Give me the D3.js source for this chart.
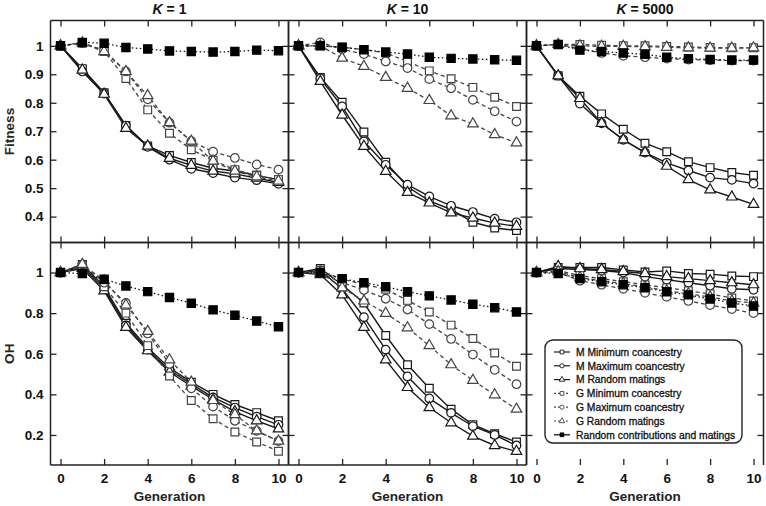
<!DOCTYPE html>
<html>
<head>
<meta charset="utf-8">
<script src="https://cdn.jsdelivr.net/npm/d3@7"></script>
<style>
  body { margin: 0; background: #fff; }
  svg { display: block; font-family: "Liberation Sans", Arial, sans-serif; }
  .tick text { font-weight: bold; font-size: 13.5px; fill: #111; }
  .tick line { stroke: #222; stroke-width: 1.3; }
</style>
</head>
<body>
<svg id="chart" width="766" height="506"></svg>
<script>
// Generations on the x axis
const generations = d3.range(0, 11);
const kValues = ["1", "10", "5000"];
const rowNames = ["Fitness", "OH"];
const xTicks = [0, 2, 4, 6, 8, 10];
const fitnessTicks = [0.4, 0.5, 0.6, 0.7, 0.8, 0.9, 1];
const ohTicks = [0.2, 0.4, 0.6, 0.8, 1];

const seriesNames = [
  "M Minimum coancestry", "M Maximum coancestry", "M Random matings",
  "G Minimum coancestry", "G Maximum coancestry", "G Random matings",
  "Random contributions and matings"
];

// Fitness, one row per series (same order as seriesNames)
const fitnessK1 = [
  [1, 0.92, 0.835, 0.72, 0.648, 0.615, 0.59, 0.57, 0.56, 0.545, 0.53],
  [1, 0.91, 0.832, 0.72, 0.645, 0.60, 0.568, 0.553, 0.537, 0.528, 0.515],
  [1, 0.915, 0.83, 0.71, 0.648, 0.605, 0.58, 0.56, 0.55, 0.535, 0.52],
  [1, 1.01, 0.98, 0.885, 0.775, 0.693, 0.635, 0.598, 0.565, 0.545, 0.53],
  [1, 1.01, 0.985, 0.91, 0.812, 0.73, 0.665, 0.628, 0.606, 0.583, 0.565],
  [1, 1.01, 0.98, 0.91, 0.825, 0.73, 0.665, 0.595, 0.56, 0.54, 0.525],
  [1, 1.012, 1.009, 0.994, 0.989, 0.982, 0.98, 0.978, 0.98, 0.985, 0.983]
];
const fitnessK10 = [
  [1, 0.889, 0.802, 0.697, 0.591, 0.505, 0.455, 0.425, 0.38, 0.36, 0.351],
  [1, 0.885, 0.787, 0.664, 0.582, 0.512, 0.471, 0.438, 0.416, 0.393, 0.38],
  [1, 0.875, 0.757, 0.647, 0.559, 0.485, 0.448, 0.413, 0.395, 0.377, 0.366],
  [1, 1.0, 0.995, 0.987, 0.975, 0.945, 0.912, 0.884, 0.854, 0.819, 0.787],
  [1, 1.012, 0.988, 0.971, 0.945, 0.922, 0.883, 0.851, 0.81, 0.77, 0.734],
  [1, 1.0, 0.957, 0.928, 0.889, 0.851, 0.808, 0.754, 0.726, 0.688, 0.659],
  [1, 1.0, 0.995, 0.986, 0.978, 0.971, 0.96, 0.956, 0.954, 0.951, 0.949]
];
const fitnessK5000 = [
  [1, 0.895, 0.823, 0.761, 0.707, 0.658, 0.628, 0.593, 0.572, 0.555, 0.545],
  [1, 0.895, 0.797, 0.728, 0.67, 0.625, 0.589, 0.562, 0.537, 0.529, 0.516],
  [1, 0.895, 0.815, 0.728, 0.67, 0.625, 0.577, 0.53, 0.494, 0.469, 0.443],
  [1, 1.005, 1.005, 1.002, 1.0, 1.0, 0.998, 0.996, 0.994, 0.993, 0.993],
  [1, 1.005, 0.99, 0.975, 0.965, 0.96, 0.955, 0.952, 0.95, 0.948, 0.948],
  [1, 1.005, 1.0, 0.998, 0.998, 0.997, 0.995, 0.993, 0.992, 0.992, 0.993],
  [1, 1.005, 0.985, 0.98, 0.975, 0.97, 0.96, 0.955, 0.952, 0.95, 0.95]
];

// Observed heterozygosity (OH)
const ohK1 = [
  [1, 1.04, 0.93, 0.75, 0.63, 0.53, 0.46, 0.40, 0.35, 0.31, 0.27],
  [1, 1.03, 0.92, 0.74, 0.62, 0.52, 0.45, 0.385, 0.335, 0.29, 0.25],
  [1, 1.02, 0.91, 0.73, 0.615, 0.51, 0.44, 0.375, 0.315, 0.27, 0.23],
  [1, 1.03, 0.93, 0.80, 0.64, 0.49, 0.37, 0.28, 0.215, 0.165, 0.12],
  [1, 1.04, 0.95, 0.85, 0.70, 0.55, 0.43, 0.34, 0.27, 0.22, 0.17],
  [1, 1.04, 0.96, 0.84, 0.71, 0.57, 0.46, 0.37, 0.30, 0.22, 0.17],
  [1, 0.995, 0.967, 0.934, 0.906, 0.877, 0.849, 0.816, 0.79, 0.761, 0.733]
];
const ohK10 = [
  [1, 1.02, 0.94, 0.85, 0.69, 0.546, 0.43, 0.327, 0.251, 0.206, 0.165],
  [1, 1.01, 0.92, 0.78, 0.62, 0.488, 0.38, 0.309, 0.243, 0.2, 0.148],
  [1, 0.99, 0.89, 0.73, 0.57, 0.434, 0.335, 0.26, 0.194, 0.148, 0.119],
  [1, 1.01, 0.967, 0.942, 0.918, 0.863, 0.806, 0.741, 0.675, 0.604, 0.538],
  [1, 1.0, 0.95, 0.914, 0.871, 0.818, 0.746, 0.673, 0.596, 0.521, 0.45],
  [1, 1.0, 0.925, 0.86, 0.799, 0.728, 0.64, 0.546, 0.469, 0.398, 0.327],
  [1, 1.0, 0.97, 0.95, 0.93, 0.906, 0.885, 0.865, 0.844, 0.827, 0.806]
];
const ohK5000 = [
  [1, 1.025, 1.025, 1.025, 1.013, 1.003, 1.008, 0.995, 0.992, 0.983, 0.98],
  [1, 1.02, 1.015, 1.01, 1.0, 0.98, 0.965, 0.95, 0.935, 0.92, 0.915],
  [1, 1.03, 1.02, 1.015, 1.005, 0.995, 0.98, 0.97, 0.96, 0.95, 0.94],
  [1, 1.01, 0.985, 0.97, 0.955, 0.94, 0.925, 0.91, 0.895, 0.875, 0.86],
  [1, 1.0, 0.96, 0.94, 0.92, 0.9, 0.88, 0.86, 0.84, 0.82, 0.80],
  [1, 1.005, 0.975, 0.96, 0.945, 0.93, 0.91, 0.895, 0.88, 0.86, 0.85],
  [1, 0.995, 0.97, 0.955, 0.94, 0.925, 0.905, 0.89, 0.87, 0.85, 0.835]
];

const panelData = [
  [fitnessK1, fitnessK10, fitnessK5000],
  [ohK1, ohK10, ohK5000]
];

// series styles: marker shape, line dash, filled?
const styles = [
  { sym: d3.symbolSquare, dash: null, fill: "#fff", stroke: "#1a1a1a", size: 60 },
  { sym: d3.symbolCircle, dash: null, fill: "#fff", stroke: "#1a1a1a", size: 58 },
  { sym: d3.symbolTriangle, dash: null, fill: "#fff", stroke: "#1a1a1a", size: 48 },
  { sym: d3.symbolSquare, dash: "4,3", fill: "#fff", stroke: "#444", size: 60 },
  { sym: d3.symbolCircle, dash: "4,3", fill: "#fff", stroke: "#444", size: 58 },
  { sym: d3.symbolTriangle, dash: "4,3", fill: "#fff", stroke: "#444", size: 48 },
  { sym: d3.symbolSquare, dash: "1.5,2.5", fill: "#000", stroke: "#000", size: 68 }
];

const svg = d3.select("#chart");
const colEdges = [50.5, 288.5, 526.5, 763.5];
const rowEdges = [20.5, 242.5, 465];

const x = d3.scaleLinear().domain([-0.46, 10.46]);
const yFit = d3.scaleLinear().domain([0.309, 1.089]).range([rowEdges[1], rowEdges[0]]);
const yOH = d3.scaleLinear().domain([0.052, 1.148]).range([rowEdges[2], rowEdges[1]]);
const yScales = [yFit, yOH];
const yTickSets = [fitnessTicks, ohTicks];
const fmtY = d => d === 1 ? "1" : d3.format(".1f")(d);

for (let r = 0; r < 2; r++) {
  for (let c = 0; c < 3; c++) {
    const x0 = colEdges[c], x1 = colEdges[c + 1];
    const xs = x.copy().range([x0, x1]);
    const ys = yScales[r];
    const g = svg.append("g");

    // clip so that lines stay inside the frame
    const clipId = "clip" + r + c;
    g.append("clipPath").attr("id", clipId).append("rect")
      .attr("x", x0).attr("y", rowEdges[r])
      .attr("width", x1 - x0).attr("height", rowEdges[r + 1] - rowEdges[r]);

    // axes with inward ticks on all sides
    const axB = g.append("g").attr("transform", `translate(0,${rowEdges[r + 1]})`)
      .call(d3.axisBottom(xs).tickValues(xTicks).tickSize(-6).tickPadding(8)
        .tickFormat(r === 1 ? d3.format("d") : ""));
    const axT = g.append("g").attr("transform", `translate(0,${rowEdges[r]})`)
      .call(d3.axisTop(xs).tickValues(xTicks).tickSize(-6).tickFormat(""));
    const axL = g.append("g").attr("transform", `translate(${x0},0)`)
      .call(d3.axisLeft(ys).tickValues(yTickSets[r]).tickSize(-6).tickPadding(7)
        .tickFormat(c === 0 ? fmtY : ""));
    const axR = g.append("g").attr("transform", `translate(${x1},0)`)
      .call(d3.axisRight(ys).tickValues(yTickSets[r]).tickSize(-6).tickFormat(""));
    [axB, axT, axL, axR].forEach(a => a.select(".domain").remove());

    // frame (bottom-right panel has no bottom border in the reference)
    const fr = g.append("g").attr("stroke", "#222").attr("stroke-width", 1.5);
    fr.append("line").attr("x1", x0).attr("x2", x1).attr("y1", rowEdges[r]).attr("y2", rowEdges[r]);
    fr.append("line").attr("x1", x0).attr("x2", x0).attr("y1", rowEdges[r]).attr("y2", rowEdges[r + 1]);
    fr.append("line").attr("x1", x1).attr("x2", x1).attr("y1", rowEdges[r]).attr("y2", rowEdges[r + 1]);
    if (!(r === 1 && c === 2)) {
      fr.append("line").attr("x1", x0).attr("x2", x1).attr("y1", rowEdges[r + 1]).attr("y2", rowEdges[r + 1]);
    }

    const plot = g.append("g").attr("clip-path", `url(#${clipId})`);
    const line = d3.line().x((d, i) => xs(generations[i])).y(d => ys(d));
    const data = panelData[r][c];

    data.forEach((vals, s) => {
      const st = styles[s];
      plot.append("path").datum(vals)
        .attr("fill", "none")
        .attr("stroke", s === 6 ? "#111" : st.stroke)
        .attr("stroke-width", s < 3 ? 1.4 : 1.3)
        .attr("stroke-dasharray", st.dash)
        .attr("d", line);
    });
    data.forEach((vals, s) => {
      const st = styles[s];
      plot.append("g").selectAll("path").data(vals).join("path")
        .attr("transform", (d, i) => `translate(${xs(generations[i])},${ys(d)})`)
        .attr("d", d3.symbol(st.sym, st.size))
        .attr("fill", st.fill)
        .attr("stroke", st.stroke)
        .attr("stroke-width", 1.2);
    });

    // column titles
    if (r === 0) {
      const t = svg.append("text")
        .attr("x", (x0 + x1) / 2).attr("y", 14)
        .attr("text-anchor", "middle")
        .attr("font-size", 14).attr("font-weight", "bold").attr("fill", "#111");
      t.append("tspan").attr("font-style", "italic").text("K");
      t.append("tspan").text(" = " + kValues[c]);
    }
    if (r === 1) {
      svg.append("text")
        .attr("x", (x0 + x1) / 2).attr("y", 501)
        .attr("text-anchor", "middle")
        .attr("font-size", 13.5).attr("font-weight", "bold").attr("fill", "#222")
        .text("Generation");
    }
  }
  // row labels
  const cy = (rowEdges[r] + rowEdges[r + 1]) / 2;
  svg.append("text")
    .attr("transform", `translate(14,${cy}) rotate(-90)`)
    .attr("text-anchor", "middle")
    .attr("font-size", 13.5).attr("font-weight", "bold").attr("fill", "#222")
    .text(rowNames[r]);
}

// legend in the bottom-right panel
const lg = svg.append("g").attr("transform", "translate(545,340)");
lg.append("rect").attr("width", 197).attr("height", 103).attr("rx", 8)
  .attr("fill", "#fff").attr("stroke", "#222").attr("stroke-width", 1.4);
seriesNames.forEach((name, s) => {
  const st = styles[s];
  const yy = 12 + s * 13.8;
  lg.append("line").attr("x1", 9).attr("x2", 25).attr("y1", yy).attr("y2", yy)
    .attr("stroke", st.stroke).attr("stroke-width", 1.2)
    .attr("stroke-dasharray", s >= 3 && s < 6 ? "2,2" : null);
  lg.append("path").attr("transform", `translate(17,${yy})`)
    .attr("d", d3.symbol(st.sym, 14))
    .attr("fill", st.fill).attr("stroke", st.stroke).attr("stroke-width", 0.9);
  lg.append("text").attr("x", 31).attr("y", yy + 3.7)
    .attr("font-size", 10.3).attr("fill", "#111")
    .attr("stroke", "#111").attr("stroke-width", 0.3)
    .text(name);
});
</script>
</body>
</html>
